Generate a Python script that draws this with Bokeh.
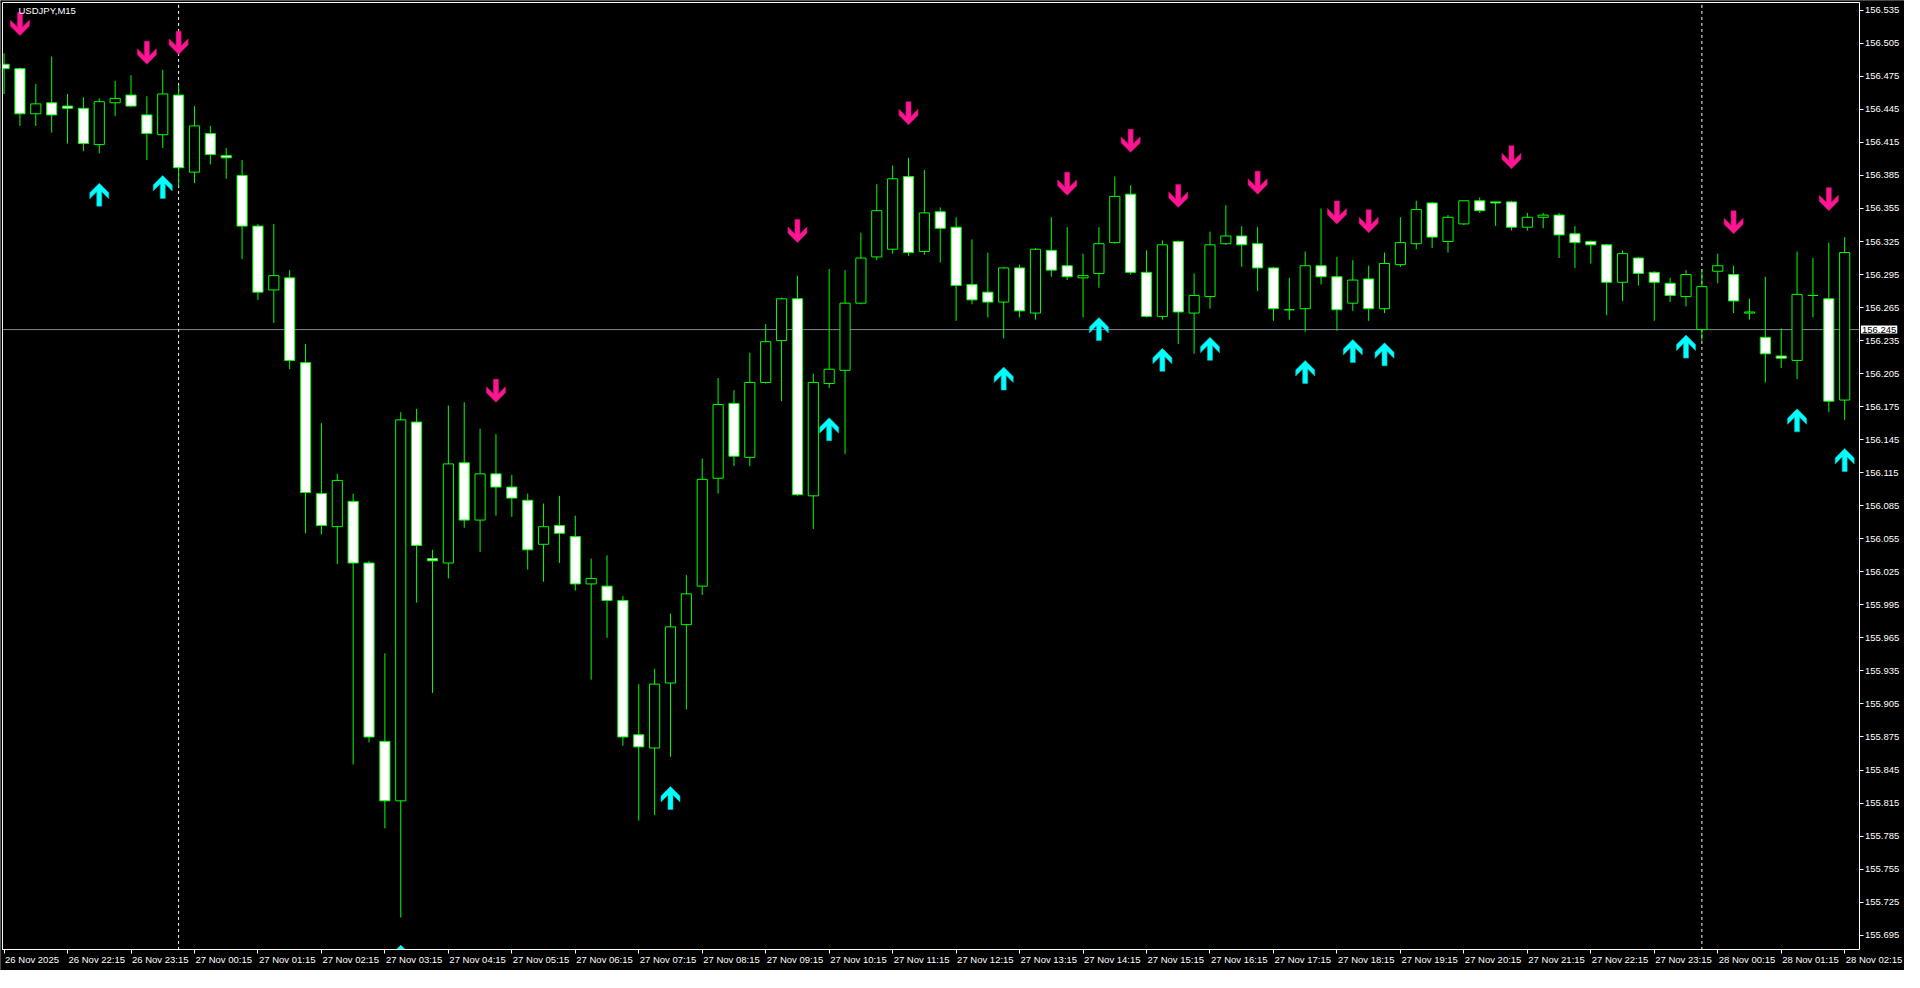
from bokeh.plotting import figure
from bokeh.models import Label, FixedTicker, LinearAxis
from bokeh.embed import file_html
from bokeh.resources import INLINE

# ---------------- data ----------------
symbol_label = "USDJPY,M15"

opens = [156.486, 156.482, 156.441, 156.451, 156.448, 156.446, 156.413, 156.451, 156.458, 156.440,
         156.422, 156.458, 156.388, 156.423, 156.403, 156.385, 156.339, 156.281, 156.292, 156.215,
         156.096, 156.066, 156.089, 156.033, 155.871, 155.817, 156.161, 156.037, 156.033, 156.124,
         156.072, 156.114, 156.102, 156.090, 156.050, 156.067, 156.057, 156.014, 156.012, 155.999,
         155.877, 155.865, 155.924, 155.977, 156.012, 156.110, 156.178, 156.129, 156.197, 156.235,
         156.273, 156.094, 156.196, 156.208, 156.269, 156.311, 156.318, 156.384, 156.316, 156.352,
         156.338, 156.286, 156.279, 156.270, 156.301, 156.260, 156.317, 156.303, 156.292, 156.296,
         156.324, 156.368, 156.297, 156.257, 156.325, 156.260, 156.275, 156.323, 156.330, 156.323,
         156.301, 156.263, 156.264, 156.303, 156.293, 156.269, 156.291, 156.264, 156.304, 156.323,
         156.360, 156.325, 156.341, 156.362, 156.361, 156.361, 156.338, 156.347, 156.349, 156.332,
         156.325, 156.322, 156.288, 156.310, 156.297, 156.287, 156.275, 156.245, 156.298, 156.295,
         156.260, 156.238, 156.221, 156.217, 156.276, 156.273, 156.181]
highs = [156.496, 156.483, 156.468, 156.493, 156.459, 156.456, 156.455, 156.471, 156.476, 156.457,
         156.481, 156.467, 156.448, 156.430, 156.410, 156.399, 156.341, 156.341, 156.299, 156.232,
         156.160, 156.114, 156.096, 156.035, 155.951, 156.170, 156.173, 156.045, 156.176, 156.179,
         156.155, 156.150, 156.113, 156.096, 156.087, 156.094, 156.076, 156.037, 156.040, 156.003,
         155.923, 155.937, 155.987, 156.022, 156.128, 156.201, 156.190, 156.224, 156.250, 156.274,
         156.294, 156.205, 156.300, 156.299, 156.333, 156.377, 156.394, 156.401, 156.390, 156.356,
         156.347, 156.327, 156.315, 156.302, 156.304, 156.319, 156.347, 156.338, 156.314, 156.338,
         156.384, 156.376, 156.317, 156.326, 156.326, 156.296, 156.334, 156.358, 156.339, 156.338,
         156.302, 156.292, 156.316, 156.355, 156.311, 156.308, 156.303, 156.315, 156.347, 156.362,
         156.361, 156.349, 156.362, 156.365, 156.361, 156.362, 156.351, 156.351, 156.351, 156.339,
         156.326, 156.323, 156.317, 156.311, 156.298, 156.292, 156.299, 156.300, 156.314, 156.303,
         156.273, 156.293, 156.246, 156.316, 156.310, 156.324, 156.329]
lows = [156.459, 156.430, 156.430, 156.424, 156.414, 156.407, 156.405, 156.439, 156.447, 156.399,
        156.410, 156.375, 156.378, 156.395, 156.382, 156.309, 156.272, 156.251, 156.209, 156.060,
        156.059, 156.032, 155.850, 155.870, 155.792, 155.711, 155.997, 155.915, 156.019, 156.065,
        156.043, 156.076, 156.075, 156.027, 156.016, 156.033, 156.008, 155.927, 155.965, 155.867,
        155.799, 155.804, 155.857, 155.900, 156.004, 156.096, 156.121, 156.121, 156.196, 156.180,
        156.094, 156.064, 156.192, 156.132, 156.268, 156.308, 156.314, 156.312, 156.313, 156.306,
        156.253, 156.268, 156.256, 156.237, 156.256, 156.254, 156.293, 156.290, 156.256, 156.283,
        156.323, 156.295, 156.256, 156.254, 156.232, 156.223, 156.264, 156.322, 156.302, 156.280,
        156.253, 156.254, 156.243, 156.286, 156.244, 156.262, 156.253, 156.260, 156.302, 156.318,
        156.319, 156.315, 156.340, 156.351, 156.339, 156.335, 156.335, 156.337, 156.310, 156.301,
        156.305, 156.258, 156.271, 156.285, 156.253, 156.270, 156.266, 156.235, 156.287, 156.260,
        156.254, 156.197, 156.210, 156.200, 156.256, 156.170, 156.163]
closes = [156.482, 156.441, 156.450, 156.440, 156.446, 156.414, 156.452, 156.455, 156.448, 156.423,
          156.459, 156.392, 156.430, 156.404, 156.401, 156.339, 156.279, 156.294, 156.217, 156.097,
          156.067, 156.108, 156.033, 155.875, 155.817, 156.163, 156.049, 156.035, 156.123, 156.072,
          156.114, 156.102, 156.092, 156.045, 156.066, 156.060, 156.014, 156.019, 155.999, 155.875,
          155.866, 155.923, 155.975, 156.005, 156.109, 156.177, 156.130, 156.197, 156.234, 156.273,
          156.095, 156.197, 156.209, 156.269, 156.310, 156.353, 156.382, 156.315, 156.351, 156.337,
          156.285, 156.272, 156.270, 156.301, 156.262, 156.318, 156.299, 156.293, 156.294, 156.323,
          156.366, 156.297, 156.257, 156.322, 156.261, 156.276, 156.322, 156.330, 156.322, 156.301,
          156.264, 156.263, 156.303, 156.293, 156.263, 156.290, 156.264, 156.305, 156.324, 156.354,
          156.329, 156.347, 156.362, 156.353, 156.360, 156.338, 156.347, 156.349, 156.331, 156.324,
          156.322, 156.288, 156.314, 156.296, 156.288, 156.276, 156.295, 156.284, 156.303, 156.271,
          156.261, 156.223, 156.219, 156.277, 156.276, 156.180, 156.315]

down_arrow_bars = [1, 9, 11, 31, 50, 57, 67, 71, 74, 79, 84, 86, 95, 109, 115]
down_arrow_prices = [156.512, 156.486, 156.495, 156.179, 156.324, 156.431, 156.367, 156.406,
                     156.356, 156.368, 156.341, 156.333, 156.391, 156.332, 156.353]
up_arrow_bars = [6, 10, 25, 42, 52, 63, 69, 73, 76, 82, 85, 87, 106, 113, 116]
up_arrow_prices = [156.378, 156.385, 155.686, 155.830, 156.165, 156.211, 156.256, 156.228,
                   156.238, 156.217, 156.236, 156.233, 156.240, 156.173, 156.137]

day_separator_bars = [11, 107]
current_price = 156.245

x_tick_bars = list(range(0, 117, 4))
x_tick_labels = ["26 Nov 2025", "26 Nov 22:15", "26 Nov 23:15",
                 "27 Nov 00:15", "27 Nov 01:15", "27 Nov 02:15", "27 Nov 03:15", "27 Nov 04:15",
                 "27 Nov 05:15", "27 Nov 06:15", "27 Nov 07:15", "27 Nov 08:15", "27 Nov 09:15",
                 "27 Nov 10:15", "27 Nov 11:15", "27 Nov 12:15", "27 Nov 13:15", "27 Nov 14:15",
                 "27 Nov 15:15", "27 Nov 16:15", "27 Nov 17:15", "27 Nov 18:15", "27 Nov 19:15",
                 "27 Nov 20:15", "27 Nov 21:15", "27 Nov 22:15", "27 Nov 23:15",
                 "28 Nov 00:15", "28 Nov 01:15", "28 Nov 02:15"]
y_tick_values = [156.535, 156.505, 156.475, 156.445, 156.415, 156.385, 156.355, 156.325, 156.295,
                 156.265, 156.235, 156.205, 156.175, 156.145, 156.115, 156.085, 156.055, 156.025,
                 155.995, 155.965, 155.935, 155.905, 155.875, 155.845, 155.815, 155.785, 155.755,
                 155.725, 155.695]
y_tick_labels = ["%.3f" % v for v in y_tick_values]

# ---------------- layout / style ----------------
W, H = 1904, 970
# visible price window of the chart box, and full canvas window (axis areas included)
cx_lo, cx_hi = -0.1, 116.96
cy_lo, cy_hi = 155.6816, 156.5421
x_lo, x_hi = -0.225, 119.77
y_lo, y_hi = 155.6629, 156.5439
FONT = "Liberation Sans"
GREEN = "#00FF00"
PINK = "#FF1493"
CYAN = "#00FFFF"

p = figure(width=W, height=H, x_range=(x_lo, x_hi), y_range=(y_lo, y_hi),
           x_axis_location=None, y_axis_location=None,
           output_backend="svg", toolbar_location=None,
           min_border=0, min_border_left=0, min_border_right=0,
           min_border_top=0, min_border_bottom=0,
           background_fill_color="black", border_fill_color="black",
           outline_line_color=None)
p.grid.visible = False

# candles
idx = list(range(len(opens)))
tops = [max(o, c) for o, c in zip(opens, closes)]
bots = [min(o, c) for o, c in zip(opens, closes)]
fills = ["black" if c >= o else "white" for o, c in zip(opens, closes)]

# price line and day separators (inside the chart box)
p.segment(x0=[cx_lo], y0=[current_price], x1=[cx_hi], y1=[current_price],
          line_color="#778899", line_width=1)
p.segment(x0=day_separator_bars, y0=[cy_lo] * len(day_separator_bars),
          x1=day_separator_bars, y1=[cy_hi] * len(day_separator_bars),
          line_color="white", line_width=1, line_dash="3 3")

p.segment(x0=idx, y0=lows, x1=idx, y1=highs, line_color=GREEN, line_width=1)
p.vbar(x=idx, width=0.64, top=tops, bottom=bots, fill_color=fills,
       line_color=GREEN, line_width=1)

# arrows (shape in screen pixels, tip at origin)
ARROW_DX = [0, -9.5, -9.5, -2.5, -2.5, 2.5, 2.5, 9.5, 9.5]
ARROW_DY = [0, 9.5, 15.5, 8.5, 23, 23, 8.5, 15.5, 9.5]
px_x = (x_hi - x_lo) / W
px_y = (y_hi - y_lo) / H


def arrow_shapes(bars, prices, direction):
    xs, ys = [], []
    for b, pr in zip(bars, prices):
        xs.append([b + dx * px_x for dx in ARROW_DX])
        ys.append([pr + direction * dy * px_y for dy in ARROW_DY])
    return xs, ys


dxs, dys = arrow_shapes(down_arrow_bars, down_arrow_prices, 1)
uxs, uys = arrow_shapes(up_arrow_bars, up_arrow_prices, -1)
p.patches(xs=dxs, ys=dys, fill_color=PINK, line_color="#D01078", line_width=0.6)
p.patches(xs=uxs, ys=uys, fill_color=CYAN, line_color="#00B8B8", line_width=0.6)

# black masks outside the chart box (clip overflow)
p.quad(left=[x_lo, x_lo, cx_hi, x_lo], right=[x_hi, cx_lo, x_hi, x_hi],
       bottom=[y_lo, y_lo, y_lo, cy_hi], top=[cy_lo, y_hi, y_hi, y_hi],
       fill_color="black", line_color=None)

# white chart border (top and left; right/bottom are the axis lines)
p.segment(x0=[cx_lo, cx_lo], y0=[cy_hi, cy_lo], x1=[cx_hi, cx_lo], y1=[cy_hi, cy_hi],
          line_color="white", line_width=1)

# axes fixed at the chart box edges
xa = LinearAxis(fixed_location=cy_lo, bounds=(cx_lo, cx_hi))
xa.ticker = FixedTicker(ticks=x_tick_bars)
xa.axis_line_color = "white"
xa.major_tick_line_color = "white"
xa.major_tick_out = 4
xa.major_tick_in = 0
xa.minor_tick_line_color = None
xa.major_label_text_color = None
p.add_layout(xa, "below")

ya = LinearAxis(fixed_location=cx_hi, bounds=(cy_lo, cy_hi))
ya.ticker = FixedTicker(ticks=y_tick_values)
ya.major_label_overrides = {v: s for v, s in zip(y_tick_values, y_tick_labels)}
ya.axis_line_color = "white"
ya.major_tick_line_color = "white"
ya.major_tick_out = 4
ya.major_tick_in = 0
ya.minor_tick_line_color = None
ya.major_label_text_color = "white"
ya.major_label_text_font = FONT
ya.major_label_text_font_size = "9.5px"
ya.major_label_standoff = 1
p.add_layout(ya, "right")

# x labels, left-aligned right of each tick (MT4 style)
for pos, txt in zip(x_tick_bars, x_tick_labels):
    p.add_layout(Label(x=pos, y=cy_lo, x_offset=1, y_offset=-4, text=txt,
                       text_align="left", text_baseline="top", text_color="white",
                       text_font=FONT, text_font_size="9.5px"))

# symbol label and current price box
p.add_layout(Label(x=cx_lo, y=cy_hi, x_offset=16, y_offset=-3, text=symbol_label,
                   text_align="left", text_baseline="top", text_color="white",
                   text_font=FONT, text_font_size="9.5px"))
p.add_layout(Label(x=cx_hi, y=current_price, x_offset=1, text="%.3f" % current_price,
                   text_align="left", text_baseline="middle", text_color="black",
                   text_font=FONT, text_font_size="9.5px",
                   background_fill_color="white", padding=1))

open("out.html", "w").write(file_html(p, INLINE))
